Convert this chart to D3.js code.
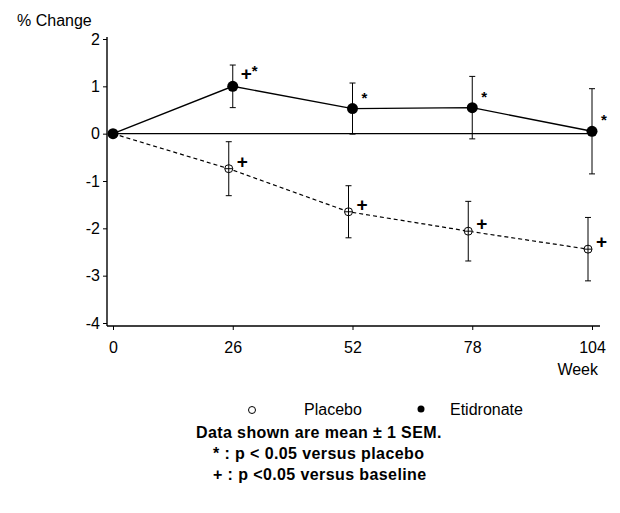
<!DOCTYPE html>
<html>
<head>
<meta charset="utf-8">
<script src="https://cdn.jsdelivr.net/npm/d3@7"></script>
<style>
  body { margin: 0; background: #fff; }
  svg text { font-family: Arial, "Liberation Sans", sans-serif; fill: #000; }
</style>
</head>
<body>
<div id="chart"></div>
<script>
// data
var weeks = [0, 26, 52, 78, 104];
var etidronate = [0, 1.0, 0.53, 0.55, 0.05];
var etidronateSem = [0, 0.45, 0.54, 0.66, 0.9];
var placebo = [0, -0.74, -1.65, -2.06, -2.44];
var placeboSem = [0, 0.57, 0.55, 0.63, 0.67];
var etidronateMarks = ["", "+*", "*", "*", "*"];
var placeboMarks = ["", "+", "+", "+", "+"];
var yTicks = [2, 1, 0, -1, -2, -3, -4];
var notes = ["Data shown are mean \u00b1 1 SEM.", "* : p < 0.05 versus placebo", "+ : p <0.05 versus baseline"];

var W = 620, H = 513;

var svg = d3.select("#chart")
  .append("svg")
    .attr("width", W)
    .attr("height", H);

var x = d3.scaleLinear().domain([0, 104]).range([113, 592]);
var y = d3.scaleLinear().domain([-4, 2]).range([323, 39]);
var axisY = 326, axisX = 107;

// y axis
var gy = svg.append("g")
  .attr("transform", "translate(" + axisX + ",0)")
  .call(d3.axisLeft(y).tickValues(yTicks).tickSize(4).tickSizeOuter(0)
    .tickFormat(function(d) { return String(d); }));
gy.select(".domain").remove();
gy.selectAll("text").style("font-size", "16px").attr("x", -7);
svg.append("line")
  .attr("x1", axisX).attr("x2", axisX)
  .attr("y1", 37).attr("y2", axisY)
  .attr("stroke", "#000").attr("stroke-width", 1.4);

// x axis
var gx = svg.append("g")
  .attr("transform", "translate(0," + axisY + ")")
  .call(d3.axisBottom(x).tickValues(weeks).tickSize(4).tickSizeOuter(0));
gx.select(".domain").remove();
gx.selectAll("text").style("font-size", "16px").attr("y", 16).attr("dy", "0.71em");
svg.append("line")
  .attr("x1", axisX).attr("x2", 600)
  .attr("y1", axisY).attr("y2", axisY)
  .attr("stroke", "#000").attr("stroke-width", 1.4);

svg.append("text")
  .attr("x", 17).attr("y", 26)
  .style("font-size", "16px")
  .text("% Change");
svg.append("text")
  .attr("x", 598).attr("y", 375)
  .attr("text-anchor", "end")
  .style("font-size", "16px")
  .text("Week");

// zero reference line
svg.append("line")
  .attr("x1", x(0)).attr("x2", x(104))
  .attr("y1", y(0)).attr("y2", y(0))
  .attr("stroke", "#000").attr("stroke-width", 1.3);

function series(vals, sem, dx, dash, marks, filled) {
  var pts = weeks.map(function(w, i) { return {x: x(w) + (i ? dx : 0), v: vals[i], s: sem[i], m: marks[i]}; });

  svg.append("path")
    .datum(pts)
    .attr("fill", "none")
    .attr("stroke", "#000")
    .attr("stroke-width", filled ? 1.4 : 1.2)
    .attr("stroke-dasharray", dash)
    .attr("d", d3.line().x(function(d) { return d.x; }).y(function(d) { return y(d.v); }));

  var eb = svg.selectAll(null).data(pts.filter(function(d) { return d.s > 0; })).enter().append("g");
  eb.append("line")
    .attr("x1", function(d) { return d.x; }).attr("x2", function(d) { return d.x; })
    .attr("y1", function(d) { return y(d.v + d.s); }).attr("y2", function(d) { return y(d.v - d.s); })
    .attr("stroke", "#000").attr("stroke-width", 1);
  [1, -1].forEach(function(sg) {
    eb.append("line")
      .attr("x1", function(d) { return d.x - 3; }).attr("x2", function(d) { return d.x + 3; })
      .attr("y1", function(d) { return y(d.v + sg * d.s); }).attr("y2", function(d) { return y(d.v + sg * d.s); })
      .attr("stroke", "#000").attr("stroke-width", 1);
  });

  var pt = svg.selectAll(null).data(pts).enter().append("g")
    .attr("transform", function(d) { return "translate(" + d.x + "," + y(d.v) + ")"; });
  if (filled) {
    pt.append("circle").attr("r", 5.5).attr("fill", "#000");
  } else {
    pt.filter(function(d, i) { return i > 0; }).append("circle").attr("r", 4).attr("fill", "#fff").attr("stroke", "#000").attr("stroke-width", 1);
    pt.filter(function(d, i) { return i > 0; }).append("path").attr("d", "M-4,0H4M0,-4V4").attr("stroke", "#000").attr("stroke-width", 1);
  }

  var t = svg.selectAll(null).data(pts.filter(function(d) { return d.m; })).enter().append("text")
    .attr("x", function(d) { return d.x + (d.m === "*" ? 9 : 8); })
    .attr("y", function(d) { return y(d.v) + (filled ? -6 : -1); })
    .style("font-weight", "bold");
  t.filter(function(d) { return d.m.indexOf("+") >= 0; }).append("tspan")
    .style("font-size", "19px").text("+");
  t.filter(function(d) { return d.m.indexOf("*") >= 0; }).append("tspan")
    .style("font-size", "15px")
    .attr("dy", function(d) { return d.m.length > 1 ? -4 : 0; })
    .text("*");
}

series(placebo, placeboSem, -4, "4,3", placeboMarks, false);
series(etidronate, etidronateSem, 0, null, etidronateMarks, true);

// legend
svg.append("circle").attr("cx", 252).attr("cy", 410).attr("r", 3.5)
  .attr("fill", "#fff").attr("stroke", "#000").attr("stroke-width", 1);
svg.append("text").attr("x", 304).attr("y", 415).style("font-size", "16px").text("Placebo");
svg.append("circle").attr("cx", 421).attr("cy", 409).attr("r", 3.5).attr("fill", "#000");
svg.append("text").attr("x", 450).attr("y", 415).style("font-size", "16px").text("Etidronate");

svg.selectAll(null).data(notes).enter().append("text")
  .attr("x", function(d, i) { return i ? 213 : 196; })
  .attr("y", function(d, i) { return 438 + i * 21; })
  .style("font-size", "16px").style("font-weight", "bold")
  .style("letter-spacing", "0.4px")
  .text(function(d) { return d; });
</script>
</body>
</html>
